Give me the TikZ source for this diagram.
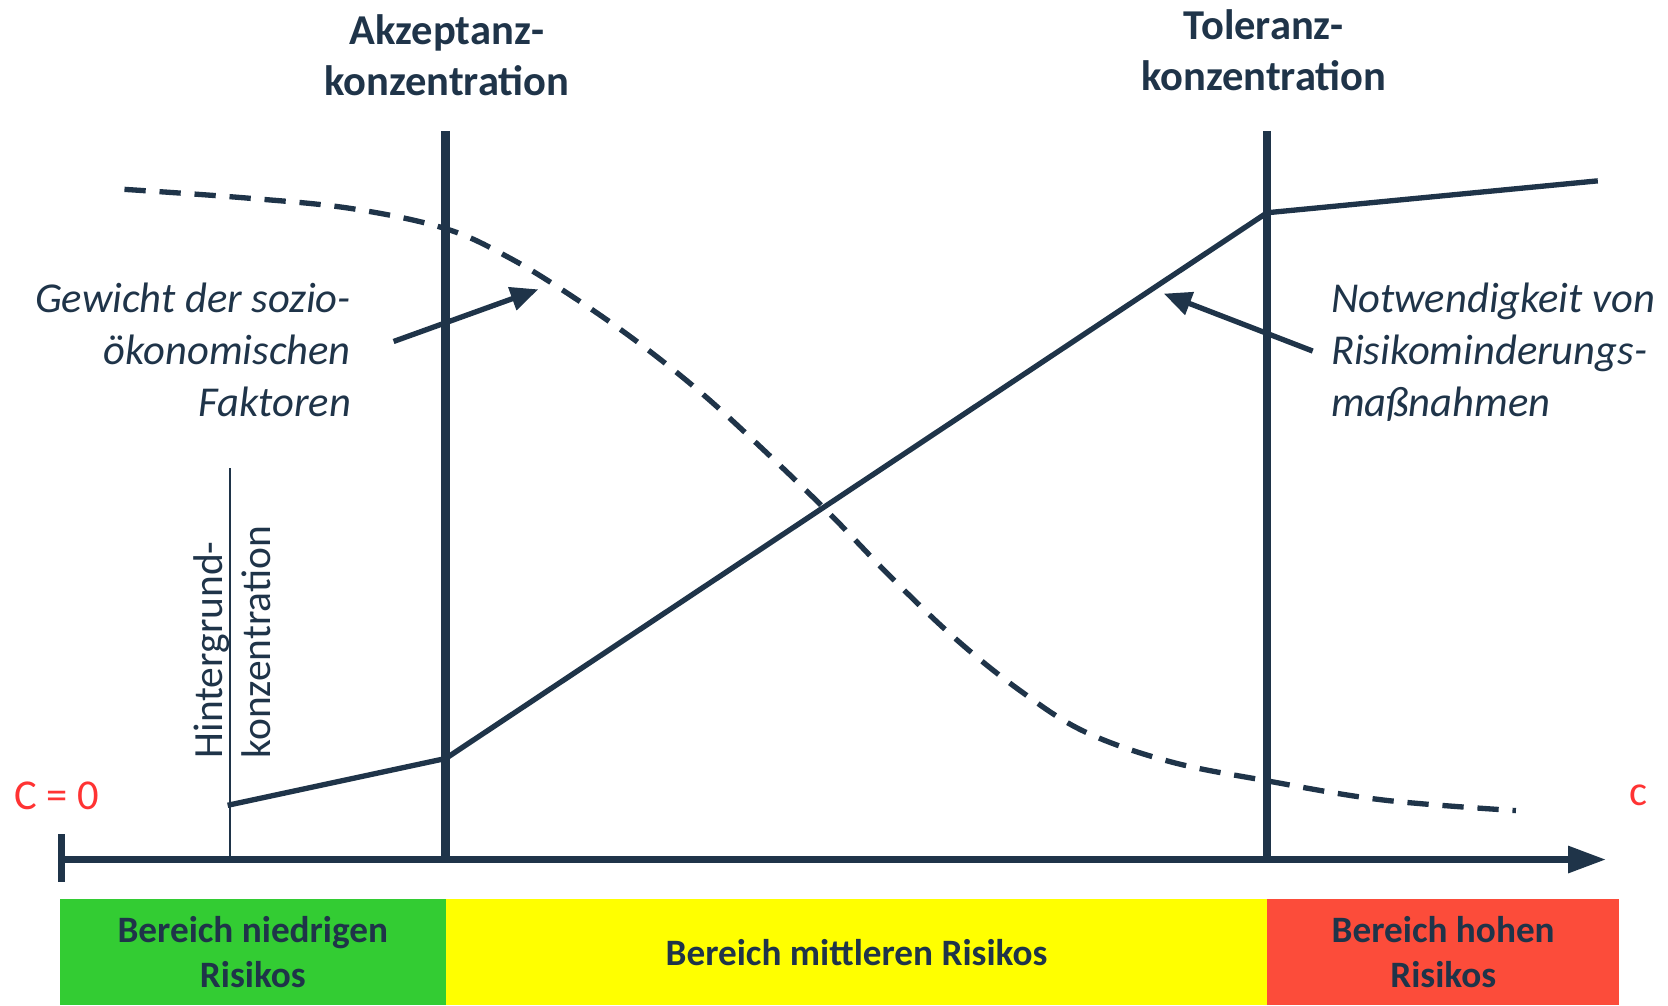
\documentclass[tikz,border=0pt]{standalone}
\usepackage{fontspec}
\setmainfont{Carlito}
\usetikzlibrary{arrows.meta}
\definecolor{navy}{HTML}{1F3449}
\definecolor{rgreen}{HTML}{33CC33}
\definecolor{ryellow}{HTML}{FFFF00}
\definecolor{rred}{HTML}{FC4C3A}
\definecolor{lblred}{HTML}{FF3333}
\begin{document}
\begin{tikzpicture}[x=1pt,y=-1pt,
  title/.style={text=navy, font=\fontsize{40}{48}\selectfont\bfseries, align=center, inner sep=0pt},
  annot/.style={text=navy, font=\fontsize{40}{49}\selectfont\itshape, inner sep=0pt},
  rotlbl/.style={text=navy, font=\fontsize{39}{45}\selectfont, align=left, inner sep=0pt, rotate=90},
  barbox/.style={anchor=north west, minimum height=100pt, inner sep=0pt, text=navy,
                 font=\fontsize{35}{42}\selectfont\bfseries, align=center},
  redlbl/.style={text=lblred, font=\fontsize{40}{48}\selectfont, inner sep=0pt},
  vline/.style={draw=navy, line width=8pt},
  axisline/.style={draw=navy, line width=7pt},
  curve/.style={draw=navy, line width=5pt, line join=round},
  dcurve/.style={draw=navy, line width=5pt, dash pattern=on 20pt off 13pt},
  thinline/.style={draw=navy, line width=2pt},
  pointer/.style={draw=navy, line width=5pt, -{Triangle[length=26pt,width=22pt]}},
]
\useasboundingbox (0,0) rectangle (1568,945);

% coloured bars
\node[barbox, fill=rgreen, minimum width=363pt] (low) at (56,845) {Bereich niedrigen\\Risikos};
\node[barbox, fill=ryellow, minimum width=772pt] (mid) at (419,845) {Bereich mittleren Risikos};
\node[barbox, fill=rred, minimum width=331pt] (high) at (1191,845) {Bereich hohen\\Risikos};

% key coordinates
\coordinate (o) at (58,808);
\coordinate (xend) at (1510,808);
\coordinate (tickT) at (58,784);
\coordinate (tickB) at (58,829);
\coordinate (aT) at (419,123);
\coordinate (aB) at (419,808);
\coordinate (tT) at (1191,123);
\coordinate (tB) at (1191,808);
\coordinate (hT) at (216,440);
\coordinate (hB) at (216,808);
\coordinate (s0) at (214,757);
\coordinate (s1) at (419,713);
\coordinate (s2) at (1191,200);
\coordinate (s3) at (1502,170);

% dashed curve
\draw[dcurve] plot[smooth, tension=0.6] coordinates {(117,178) (230,186) (330,196) (419,215) (480,243) (540,280) (600,322) (660,370) (720,425) (780,483) (840,545) (900,602) (960,650) (1020,688) (1100,716) (1191,734) (1300,752) (1425,762)};

% thin background line
\draw[thinline] (hT) -- (hB);

% verticals
\draw[vline] (aT) -- (aB);
\draw[vline] (tT) -- (tB);

% solid curve
\draw[curve] (s0) -- (s1) -- (s2) -- (s3);

% axis
\draw[axisline, -{Triangle[length=36pt,width=24pt]}] (o) -- (xend);
\draw[axisline] (tickT) -- (tickB);

% titles
\node[title] (acc) at (420,52) {Akzeptanz-\\konzentration};
\node[title] (tol) at (1188,47) {Toleranz-\\konzentration};

% annotations
\node[annot, anchor=east, align=right] (gew) at (330,329) {Gewicht der sozio-\\ökonomischen\\Faktoren};
\node[annot, anchor=west, align=left] (not) at (1251,331) {Notwendigkeit von\\Risikominderungs-\\maßnahmen};
\coordinate (p1s) at (370,321);
\coordinate (p1e) at (506,272);
\coordinate (p2s) at (1234,330);
\coordinate (p2e) at (1094,276);
\draw[pointer] (p1s) -- (p1e);
\draw[pointer] (p2s) -- (p2e);

% rotated label
\node[rotlbl, anchor=west] (hint) at (218,713) {Hintergrund-\\konzentration};

% red labels
\node[redlbl] (c0) at (53,748) {C = 0};
\node[redlbl] (cc) at (1540,748) {c};
\end{tikzpicture}
\end{document}
